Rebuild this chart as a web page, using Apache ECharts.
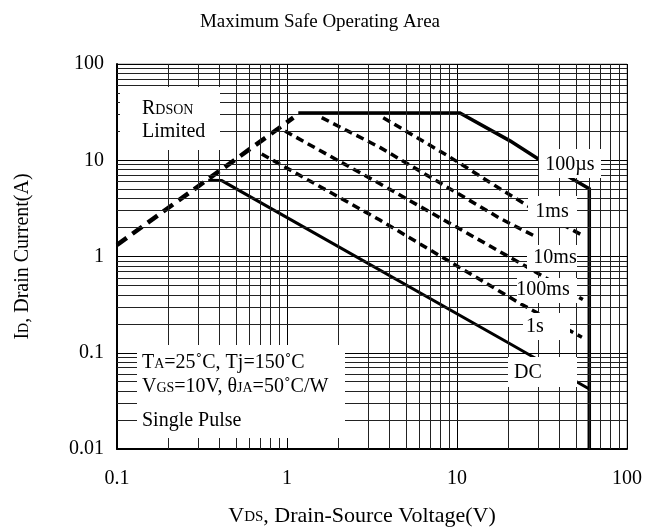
<!DOCTYPE html>
<html><head><meta charset="utf-8">
<script src="https://cdn.jsdelivr.net/npm/echarts@6/dist/echarts.min.js"></script>
<style>html,body{margin:0;padding:0;background:#fff}#c{width:645px;height:532px}</style>
</head><body><div id="c"></div>
<script>
const F = '"Liberation Serif", "Times New Roman", serif';

// ---- data (V in volts, I in amps) ----
const rdsonV = [0.1, 1.09];
const rdsonI = [1.32, 27.7];
const us100V = [1.165, 10.4, 20.5, 30.1, 60, 60];
const us100I = [31, 31, 15.9, 10.3, 5.05, 0.01];
const ms1V = [3.68, 8.85, 17.9, 25.7, 55];
const ms1I = [27.7, 11.1, 5.06, 3.41, 1.65];
const ms10V = [1.6, 3.52, 17.9, 28.8];
const ms10I = [27.7, 13.6, 2.49, 1.62];
const ms100V = [0.973, 3.52, 25.1, 55];
const ms100I = [20.1, 5.7, 0.8, 0.357];
const s1V = [0.71, 3.52, 24.1, 54.3];
const s1I = [11.6, 2.39, 0.317, 0.145];
const dcV = [0.344, 0.413, 20.5, 60];
const dcI = [6.2, 6.15, 0.124, 0.042];

// grid lines (log minor divisions)
const xMinor = [0.2,0.3,0.4,0.5,0.6,0.7,0.8,0.9,2,3,4,5,6,7,8,9,20,30,40,50,60,70,80,90];
const yMinor = [0.02,0.03,0.04,0.05,0.06,0.07,0.08,0.09,0.2,0.3,0.4,0.5,0.6,0.7,0.8,0.9,2,3,4,5,6,7,8,9,20,30,40,50,60,70,80,90];

const zip = (a, b) => a.map((v, i) => [v, b[i]]);

function mkRich(big, small) {
  return {
    b: {fontSize: big, fontFamily: F, color: '#000', verticalAlign: 'bottom', lineHeight: big},
    s: {fontSize: small, fontFamily: F, color: '#000', verticalAlign: 'bottom', lineHeight: small, padding: [0, 0, 2, 0]}
  };
}
const rich = mkRich(20, 14);

const chart = echarts.init(document.getElementById('c'), null, {renderer: 'canvas'});

function lineSeries(name, v, i, width, dash, z) {
  return {
    name, type: 'line', data: zip(v, i), showSymbol: false, symbol: 'none', z: z || 3,
    lineStyle: {color: '#000', width, type: dash || 'solid', cap: 'butt', join: 'miter'},
    animation: false, silent: true
  };
}

function box(x, y, w, h) {
  return {type: 'rect', shape: {x, y, width: w, height: h}, style: {fill: '#fff'}, z: 100, silent: true};
}
function txt(x, y, text, align) {
  return {type: 'text', x, y, z: 101, silent: true,
    style: {text, fontSize: 20, fontFamily: F, fill: '#000', align: align || 'center', verticalAlign: 'middle', rich}};
}

const fmt = v => String(Number(v.toPrecision(6)));

chart.setOption({
  animation: false,
  backgroundColor: '#fff',
  title: {text: 'Maximum Safe Operating Area', left: 320, textAlign: 'center', top: 13, padding: 0,
    textStyle: {fontFamily: F, fontSize: 19, fontWeight: 'normal', color: '#000'}},
  grid: {left: 117, right: 18, top: 64, bottom: 79, show: true, borderColor: '#999', borderWidth: 1, backgroundColor: '#fff'},
  xAxis: {
    type: 'log', logBase: 10, min: 0.1, max: 100,
    name: '{b|V}{s|DS}{b|, Drain-Source Voltage(V)}', nameLocation: 'middle', nameGap: 56,
    nameTextStyle: {rich: mkRich(22, 15), padding: [0, 20, 0, 0]},
    axisLine: {show: true, lineStyle: {color: '#000', width: 2}},
    axisTick: {show: false},
    axisLabel: {fontFamily: F, fontSize: 20, color: '#000', margin: 20, formatter: fmt},
    splitLine: {show: true, lineStyle: {color: '#000', width: 1}}
  },
  yAxis: {
    type: 'log', logBase: 10, min: 0.01, max: 100,
    name: '{b|I}{s|D}{b|, Drain Current(A)}', nameLocation: 'middle', nameGap: 84,
    nameTextStyle: {rich: mkRich(20, 14)},
    axisLine: {show: true, lineStyle: {color: '#000', width: 2}},
    axisTick: {show: false},
    axisLabel: {fontFamily: F, fontSize: 20, color: '#000', margin: 13, formatter: fmt},
    splitLine: {show: true, lineStyle: {color: '#000', width: 1}}
  },
  series: [
    {
      name: 'grid', type: 'line', data: [], z: 1, silent: true,
      markLine: {
        silent: true, symbol: 'none', animation: false, label: {show: false},
        lineStyle: {color: '#222', width: 1, type: 'solid'},
        data: xMinor.map(v => ({xAxis: v})).concat(yMinor.map(v => ({yAxis: v})))
      }
    },
    lineSeries('RDS(ON) Limited', rdsonV, rdsonI, 4.5, [12, 7]),
    lineSeries('100µs', us100V, us100I, 3.5),
    lineSeries('1ms', ms1V, ms1I, 3.5, [8, 5]),
    lineSeries('10ms', ms10V, ms10I, 3.5, [8, 5]),
    lineSeries('100ms', ms100V, ms100I, 3.5, [8, 5]),
    lineSeries('1s', s1V, s1I, 3.5, [8, 5]),
    lineSeries('DC', dcV, dcI, 3)
  ],
  graphic: [
    box(120, 87, 100, 63),
    txt(142, 109, '{b|R}{s|DSON}', 'left'),
    txt(142, 132, '{b|Limited}', 'left'),
    box(137, 345, 208, 93),
    txt(142, 363, '{b|T}{s|A}{b|=25˚C, Tj=150˚C}', 'left'),
    txt(142, 387, '{b|V}{s|GS}{b|=10V, θ}{s|JA}{b|=50˚C/W}', 'left'),
    txt(142, 421, '{b|Single Pulse}', 'left'),
    box(539, 149, 62, 29), txt(570, 165, '{b|100µs}'),
    box(528, 196, 49, 31), txt(552, 212, '{b|1ms}'),
    box(527, 245, 50, 26), txt(555, 258, '{b|10ms}'),
    box(517, 278, 60, 25), txt(543, 290, '{b|100ms}'),
    box(523, 313, 47, 27), txt(535, 327, '{b|1s}'),
    box(508, 357, 69, 30), txt(528, 373, '{b|DC}')
  ]
});
</script></body></html>
